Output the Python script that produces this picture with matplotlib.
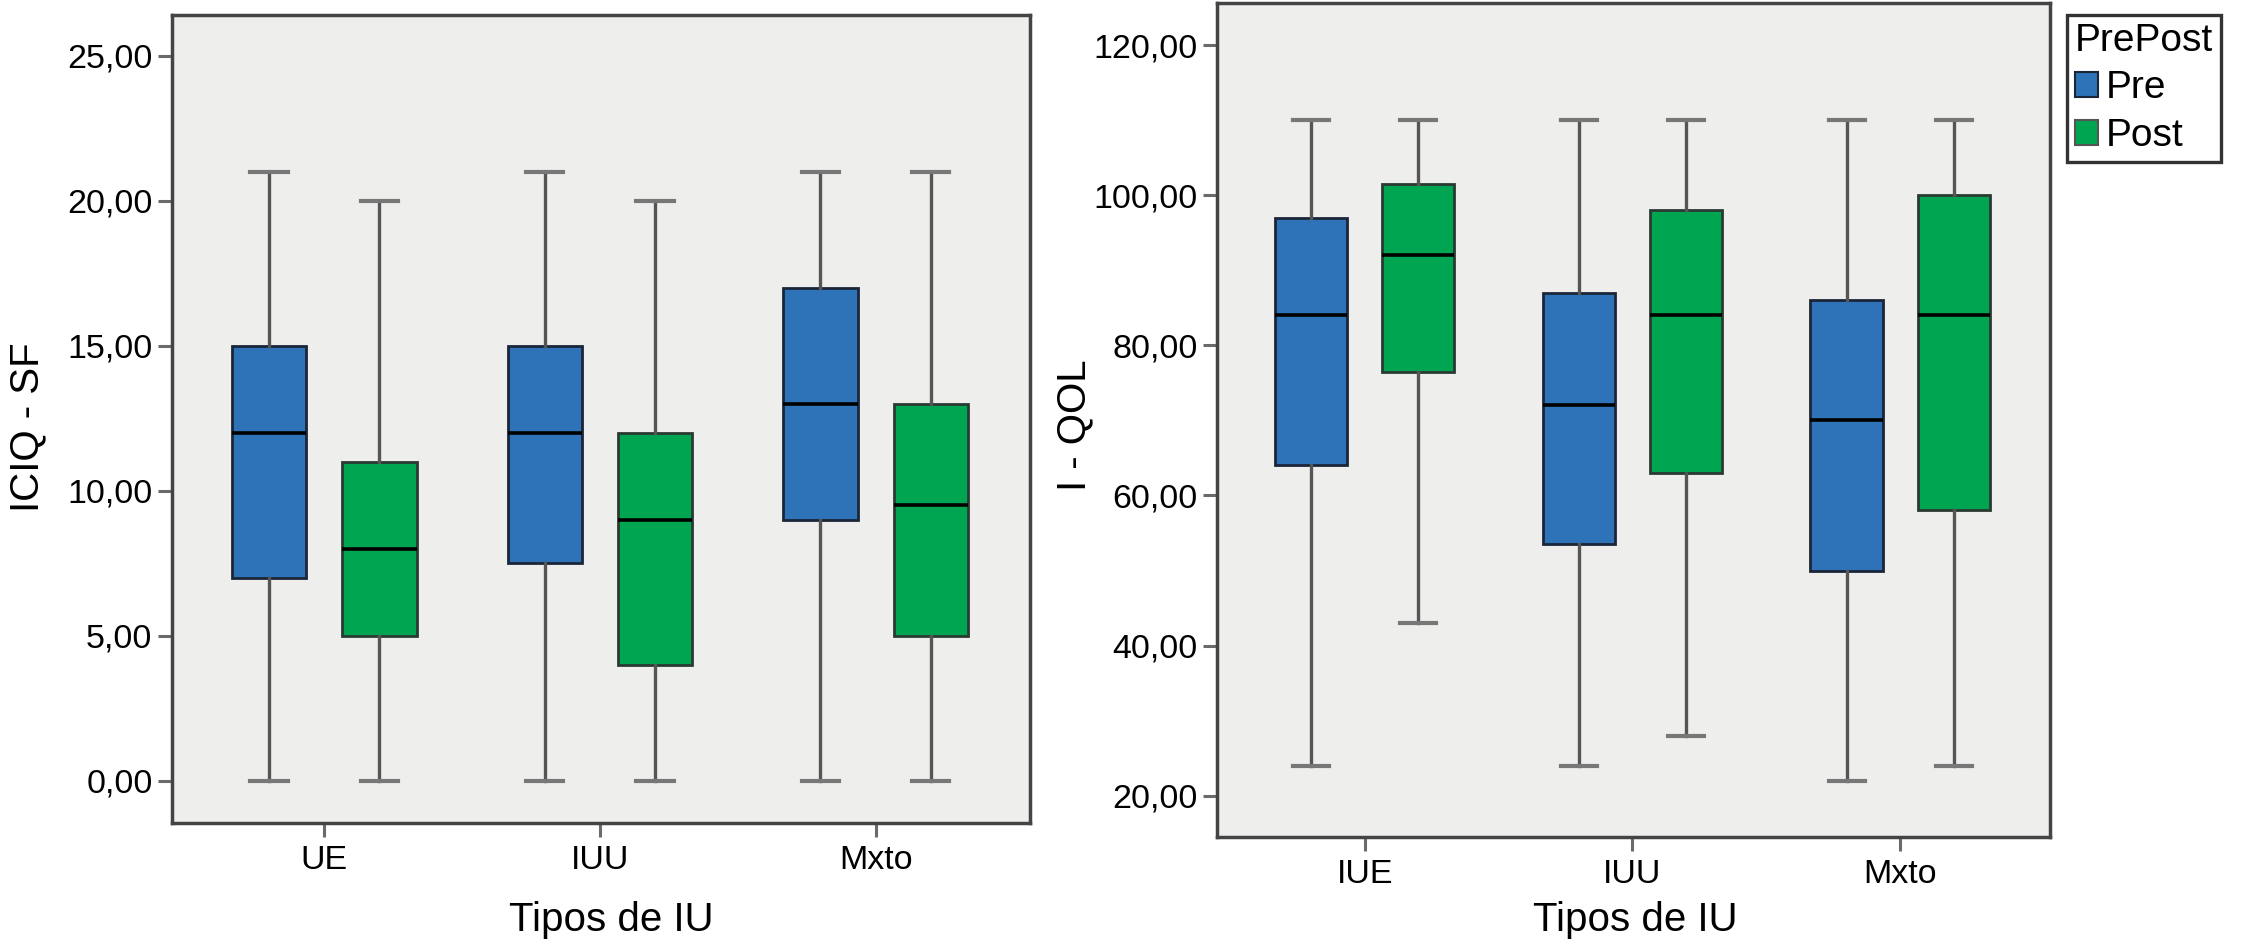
import matplotlib
matplotlib.use("Agg")
import matplotlib.pyplot as plt
from matplotlib.patches import Patch
from matplotlib.ticker import FuncFormatter, MultipleLocator

plt.rcParams['font.family'] = ['Liberation Sans', 'DejaVu Sans']

# --- data ---
cats_left = ['UE', 'IUU', 'Mxto']
cats_right = ['IUE', 'IUU', 'Mxto']
groups = ['Pre', 'Post']

# ICIQ - SF
iciq_pre_min = [0, 0, 0]
iciq_pre_q1 = [7, 7.5, 9]
iciq_pre_med = [12, 12, 13]
iciq_pre_q3 = [15, 15, 17]
iciq_pre_max = [21, 21, 21]

iciq_post_min = [0, 0, 0]
iciq_post_q1 = [5, 4, 5]
iciq_post_med = [8, 9, 9.5]
iciq_post_q3 = [11, 12, 13]
iciq_post_max = [20, 20, 21]

# I - QOL
iqol_pre_min = [24, 24, 22]
iqol_pre_q1 = [64, 53.5, 50]
iqol_pre_med = [84, 72, 70]
iqol_pre_q3 = [97, 87, 86]
iqol_pre_max = [110, 110, 110]

iqol_post_min = [43, 28, 24]
iqol_post_q1 = [76.5, 63, 58]
iqol_post_med = [92, 84, 84]
iqol_post_q3 = [101.5, 98, 100]
iqol_post_max = [110, 110, 110]

PRE_COLOR = '#2e72b7'
POST_COLOR = '#00a551'
PRE_EDGE = '#1a2638'
POST_EDGE = '#2a3a32'
BG = '#eeeeec'


def make_stats(lo, q1, med, q3, hi):
    return [dict(whislo=a, q1=b, med=c, q3=d, whishi=e, fliers=[])
            for a, b, c, d, e in zip(lo, q1, med, q3, hi)]


def draw_boxes(ax, stats, positions, face, edge):
    ax.bxp(stats, positions=positions, widths=0.27, patch_artist=True,
           showfliers=False,
           boxprops=dict(facecolor=face, edgecolor=edge, linewidth=2.0),
           whiskerprops=dict(color='#555555', linewidth=2.4),
           capprops=dict(color='#777777', linewidth=3.0),
           medianprops=dict(color='black', linewidth=2.6))


def style_axis(ax, cats, ylim, ystep, ylabel):
    ax.set_facecolor(BG)
    for sp in ax.spines.values():
        sp.set_color('#444444')
        sp.set_linewidth(2.5)
    ax.set_xlim(-0.552, 2.56)
    ax.set_ylim(*ylim)
    ax.set_xticks(range(len(cats)))
    ax.set_xticklabels(cats)
    ax.yaxis.set_major_locator(MultipleLocator(ystep))
    ax.yaxis.set_major_formatter(FuncFormatter(lambda v, p: f"{v:.2f}".replace('.', ',')))
    ax.tick_params(axis='both', direction='out', length=10, width=2.2,
                   color='#6a6a6a', labelsize=24.5, pad=4)
    ax.tick_params(axis='x', pad=6)
    ax.set_ylabel(ylabel, fontsize=29)
    ax.set_xlabel('Tipos de IU', fontsize=29)


fig = plt.figure(figsize=(22.44, 9.46), dpi=100)
W, H = 2244, 946

# left panel
ax1 = fig.add_axes([172 / W, (H - 823) / H, 858 / W, 808 / H])
x = list(range(len(cats_left)))
draw_boxes(ax1, make_stats(iciq_pre_min, iciq_pre_q1, iciq_pre_med, iciq_pre_q3, iciq_pre_max),
           [i - 0.2 for i in x], PRE_COLOR, PRE_EDGE)
draw_boxes(ax1, make_stats(iciq_post_min, iciq_post_q1, iciq_post_med, iciq_post_q3, iciq_post_max),
           [i + 0.2 for i in x], POST_COLOR, POST_EDGE)
style_axis(ax1, cats_left, (-1.45, 26.41), 5, 'ICIQ - SF')
ax1.yaxis.set_label_coords(-0.147, 0.49)
ax1.xaxis.set_label_coords(0.512, -0.0965)

# right panel
ax2 = fig.add_axes([1217 / W, (H - 837) / H, 833 / W, 834 / H])
x = list(range(len(cats_right)))
draw_boxes(ax2, make_stats(iqol_pre_min, iqol_pre_q1, iqol_pre_med, iqol_pre_q3, iqol_pre_max),
           [i - 0.2 for i in x], PRE_COLOR, PRE_EDGE)
draw_boxes(ax2, make_stats(iqol_post_min, iqol_post_q1, iqol_post_med, iqol_post_q3, iqol_post_max),
           [i + 0.2 for i in x], POST_COLOR, POST_EDGE)
style_axis(ax2, cats_right, (14.5, 125.6), 20, 'I - QOL')
ax2.yaxis.set_label_coords(-0.149, 0.494)
ax2.xaxis.set_label_coords(0.502, -0.0767)

# legend
handles = [Patch(facecolor=PRE_COLOR, edgecolor=PRE_EDGE, linewidth=1.5),
           Patch(facecolor=POST_COLOR, edgecolor='#555555', linewidth=1.5)]
leg = fig.legend(handles, groups, title='PrePost', loc='upper left',
                 bbox_to_anchor=(2067 / W, 1 - 15 / H), borderaxespad=0,
                 fontsize=28, title_fontsize=28, frameon=True, fancybox=False,
                 handlelength=0.6, handleheight=0.6, handletextpad=0.2,
                 labelspacing=0.3, borderpad=0.2, alignment='left')
leg.get_frame().set_edgecolor('black')
leg.get_frame().set_linewidth(2.4)

fig.savefig('out.png', dpi=100)
